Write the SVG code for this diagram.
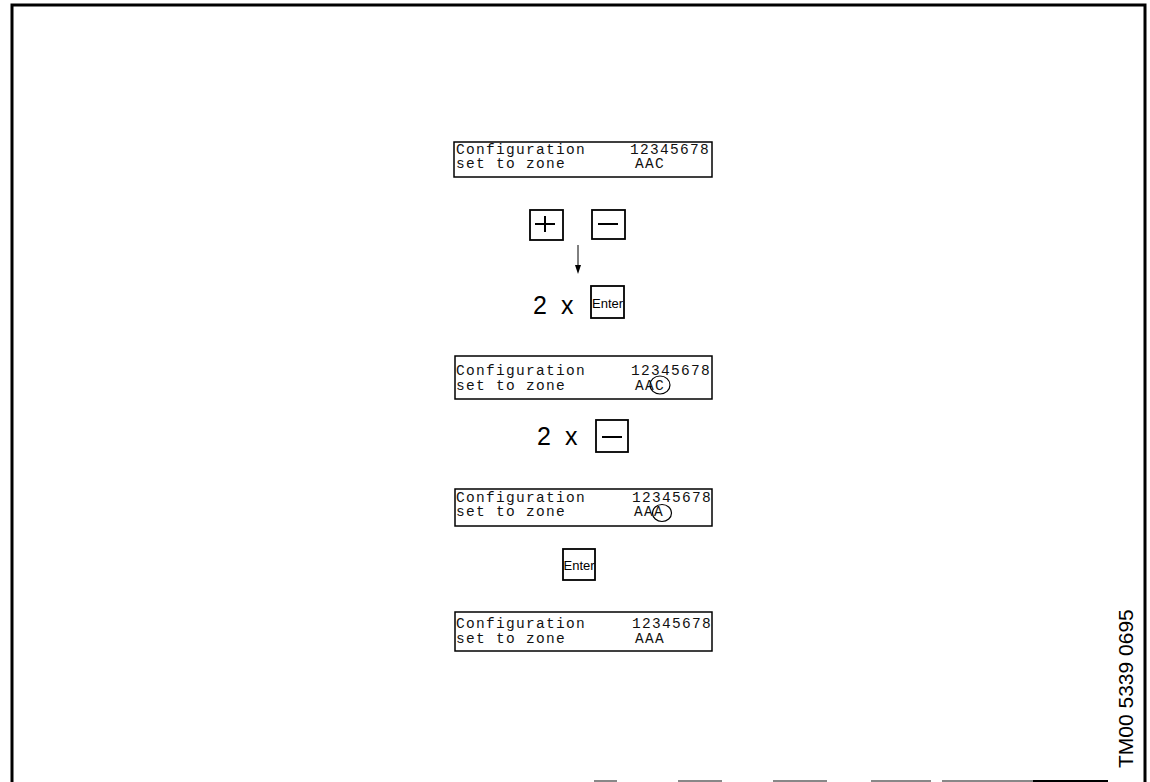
<svg xmlns="http://www.w3.org/2000/svg" width="1150" height="782" viewBox="0 0 1150 782">
<style>
.frame{stroke:#000;stroke-width:3;fill:none}
.dash{stroke:#888;stroke-width:2;fill:none}
.disp{fill:#fff;stroke:#000;stroke-width:1.5}
.key{fill:#fff;stroke:#000;stroke-width:1.8}
.mono{font-family:"Liberation Mono","DejaVu Sans Mono",monospace;font-size:14.5px;letter-spacing:1.3px;fill:#111}
.sans{font-family:"Liberation Sans",Arial,sans-serif;fill:#000}
.sym{stroke:#000;stroke-width:2;fill:none}
.circ{fill:none;stroke:#000;stroke-width:1.2}
.conn{stroke:#000;stroke-width:1}
</style>
<rect width="1150" height="782" fill="#fff"/>
<g id="frame">
<path class="frame" d="M12,782 V5 H1145 V782"/>
<path class="dash" d="M594,781 H617 M678,781 H722 M773,781 H827 M871,781 H931 M942,781 H1033"/>
<path d="M1033,781 H1108" stroke="#000" stroke-width="2"/>
</g>
<g id="display1">
<rect class="disp" x="454" y="142" width="258" height="35"/>
<text class="mono"><tspan x="456" y="154">Configuration</tspan><tspan x="630" y="154">12345678</tspan><tspan x="456" y="168">set to zone</tspan><tspan x="635" y="168">AAC</tspan></text>
</g>
<g id="key-plus">
<rect class="key" x="530" y="210" width="33" height="30"/>
<path class="sym" d="M535,224 H555 M545,216 V232"/>
</g>
<g id="key-minus">
<rect class="key" x="592" y="210" width="33" height="29"/>
<path class="sym" d="M598,224 H618"/>
</g>
<g id="connectors">
<line class="conn" x1="578" y1="245" x2="578" y2="266"/>
<path d="M575,265 L581,265 L578,274 Z" fill="#000"/>
</g>
<g id="step-2x-enter">
<text class="sans" x="533" y="314" font-size="25">2</text>
<text class="sans" x="561" y="314" font-size="25">x</text>
<rect class="key" x="591" y="286" width="33" height="32"/>
<text class="sans" x="592" y="308" font-size="13">Enter</text>
</g>
<g id="display2">
<rect class="disp" x="455" y="356" width="257" height="43"/>
<text class="mono"><tspan x="456" y="375">Configuration</tspan><tspan x="631" y="375">12345678</tspan><tspan x="456" y="390">set to zone</tspan><tspan x="635" y="390">AAC</tspan></text>
<ellipse class="circ" cx="660" cy="385" rx="10" ry="9"/>
</g>
<g id="step-2x-minus">
<text class="sans" x="537" y="445" font-size="25">2</text>
<text class="sans" x="565" y="445" font-size="25">x</text>
<rect class="key" x="596" y="420" width="32" height="32"/>
<path class="sym" d="M602,437 H622"/>
</g>
<g id="display3">
<rect class="disp" x="455" y="489" width="257" height="37"/>
<text class="mono"><tspan x="456" y="502">Configuration</tspan><tspan x="632" y="502">12345678</tspan><tspan x="456" y="516">set to zone</tspan><tspan x="634" y="516">AAA</tspan></text>
<ellipse class="circ" cx="662" cy="513" rx="9.5" ry="8.5"/>
</g>
<g id="key-enter">
<rect class="key" x="563" y="549" width="32" height="31"/>
<text class="sans" x="563.5" y="570" font-size="13">Enter</text>
</g>
<g id="display4">
<rect class="disp" x="455" y="612" width="257" height="39"/>
<text class="mono"><tspan x="456" y="628">Configuration</tspan><tspan x="632" y="628">12345678</tspan><tspan x="456" y="643">set to zone</tspan><tspan x="635" y="643">AAA</tspan></text>
</g>
<g id="code">
<text class="sans" font-size="21" transform="translate(1133,768) rotate(-90)">TM00 5339 0695</text>
</g>
</svg>
